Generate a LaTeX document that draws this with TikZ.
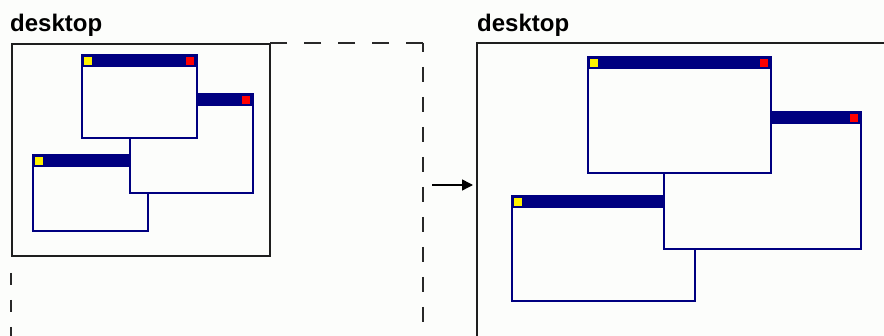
\documentclass[tikz,border=0pt]{standalone}
\usepackage{fontspec}
\setmainfont{Liberation Sans}
\usetikzlibrary{arrows.meta}
\definecolor{bgc}{RGB}{252,253,251}
\definecolor{navyc}{RGB}{0,0,128}
\definecolor{deskc}{RGB}{30,30,30}
\definecolor{dashc}{RGB}{40,40,40}
\tikzset{
  winbox/.style={draw=navyc, fill=bgc, line width=2pt, inner sep=0pt, anchor=north west},
  titlebar/.style={draw=navyc, fill=navyc, line width=1pt, inner sep=0pt, anchor=north west, minimum height=12pt},
  yelsq/.style={fill=yellow, inner sep=0pt, minimum size=8pt, anchor=north west},
  redsq/.style={fill=red, inner sep=0pt, minimum size=8pt, anchor=north east},
  deskline/.style={draw=deskc, line width=2pt},
  dashline/.style={draw=dashc, line width=2pt},
  desklabel/.style={font=\bfseries\fontsize{24}{28}\selectfont, inner sep=0pt, anchor=base west}
}
\newcommand\deskwin[5]{%
  \node[winbox, minimum width=#4pt-#2pt, minimum height=#5pt-#3pt] (#1) at (#2,#3) {};
  \node[titlebar, minimum width=#4pt-#2pt] (#1t) at (#1.north west) {};
  \node[yelsq] (#1y) at ([shift={(3pt,-3pt)}]#1.north west) {};
  \node[redsq] (#1r) at ([shift={(-4pt,-3pt)}]#1.north east) {};
}
\begin{document}
\begin{tikzpicture}[x=1pt,y=-1pt]
\fill[bgc] (0,0) rectangle (884,336);
\useasboundingbox (0,0) rectangle (884,336);
% labels
\node[desklabel] (labL) at (10,32) {desktop};
\node[desklabel] (labR) at (477,32) {desktop};
% left desktop
\node[deskline, fill=bgc, inner sep=0pt, anchor=north west, minimum width=258pt, minimum height=212pt] (deskL) at (11,43) {};
% dashed enlarged desktop outline
\coordinate (dTL) at (11,258);
\coordinate (dBL) at (11,340);
\coordinate (dTR) at (423,43);
\coordinate (dMT) at (269,43);
\coordinate (dBR) at (423,340);
\draw[dashline, dash pattern=on 17pt off 17pt] (dTR) -- (dMT);
\draw[dashline, dash pattern=on 15pt off 15pt, dash phase=6pt] (dTR) -- (dBR);
\draw[dashline, dash pattern=on 12pt off 15pt, dash phase=12pt] (dTL) -- (dBL);
% left windows
\deskwin{wc}{32}{154}{147}{230}
\deskwin{wb}{129}{93}{252}{192}
\deskwin{wa}{81}{54}{196}{137}
% arrow
\coordinate (aS) at (432,185);
\coordinate (aE) at (473,185);
\draw[line width=1.5pt, -{Triangle[length=11pt,width=11pt]}] (aS) -- (aE);
% right desktop
\coordinate (rB) at (477,340);
\coordinate (rTL) at (477,43);
\coordinate (rTR) at (890,43);
\draw[deskline] (rB) -- (rTL) -- (rTR);
% right windows
\deskwin{wcc}{511}{195}{694}{300}
\deskwin{wbb}{663}{111}{860}{248}
\deskwin{waa}{587}{56}{770}{172}
\end{tikzpicture}
\end{document}
